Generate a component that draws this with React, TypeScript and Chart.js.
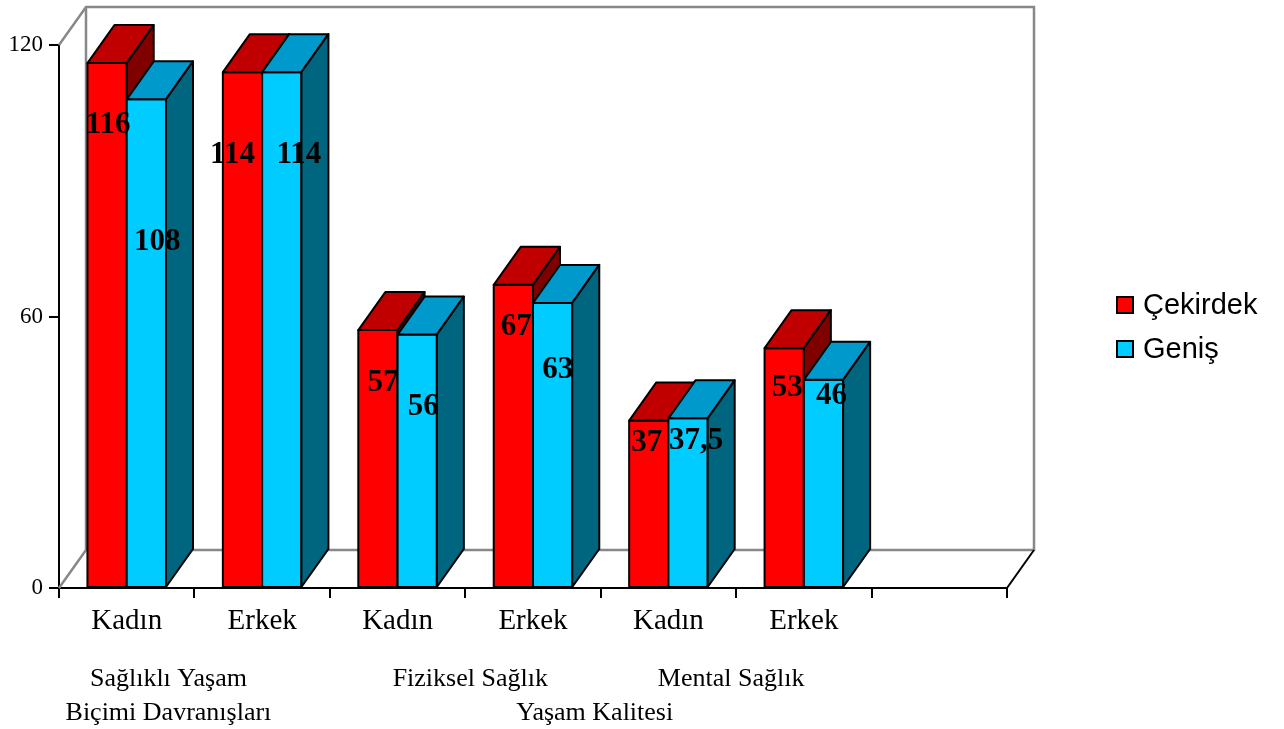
import React, { useEffect, useRef } from 'react';
import { Chart, registerables } from 'chart.js';

Chart.register(...registerables);

// ---------- data ----------
const categories = ['Kadın', 'Erkek', 'Kadın', 'Erkek', 'Kadın', 'Erkek', ''];
const seriesNames = ['Çekirdek', 'Geniş'];
const coreValues = [116, 114, 57, 67, 37, 53, null];
const wideValues = [108, 114, 56, 63, 37.5, 46, null];
// where each value label sits, in value units
const coreLabelLevel = [102.3, 95.7, 45.3, 57.7, 32.0, 44.2];
const wideLabelLevel = [76.5, 95.7, 40.0, 48.2, 32.5, 42.4];
const yTicks = [0, 60, 120];
const groupLabels = [
  { lines: ['Sağlıklı Yaşam', 'Biçimi Davranışları'], from: 0, to: 1, row: 0 },
  { lines: ['Fiziksel Sağlık'], from: 2, to: 3, row: 0 },
  { lines: ['Mental Sağlık'], from: 4, to: 5, row: 0 },
  { lines: ['Yaşam Kalitesi'], from: 2, to: 5, row: 1 },
];

// ---------- style ----------
const SERIF = "'Liberation Serif', 'Times New Roman', serif";
const SANS = "'Liberation Sans', Arial, sans-serif";
const DX = 27;
const DY = -38;
const GROUP_NUDGE = [-26, 5, -5, -6];
// horizontal nudges (px) of value labels from the bar's front centre
const CORE_LABEL_NUDGE = [1, -10, 5, 3, -2, 3];
const WIDE_LABEL_NUDGE = [11, 17, 6, 5, 8, 8];
const faces = [
  { front: '#FF0000', top: '#C00000', side: '#800000' },
  { front: '#00CCFF', top: '#0099CC', side: '#006680' },
];

const fmt = (v: number) => String(v).replace('.', ',');

const wallPlugin = {
  id: 'wall3d',
  beforeDatasetsDraw(chart: any) {
    const { ctx, chartArea } = chart;
    const { left, right, top, bottom } = chartArea;
    ctx.save();
    ctx.lineWidth = 2.5;
    ctx.strokeStyle = '#888888';
    ctx.beginPath();
    ctx.moveTo(left, top);
    ctx.lineTo(left + DX, top + DY);
    ctx.lineTo(right + DX, top + DY);
    ctx.lineTo(right + DX, bottom + DY);
    ctx.lineTo(left + DX, bottom + DY);
    ctx.lineTo(left + DX, top + DY);
    ctx.moveTo(left, bottom);
    ctx.lineTo(left + DX, bottom + DY);
    ctx.stroke();
    ctx.lineWidth = 2;
    ctx.strokeStyle = '#000';
    ctx.beginPath();
    ctx.moveTo(right, bottom);
    ctx.lineTo(right + DX, bottom + DY);
    ctx.stroke();
    ctx.restore();
  },
  afterDatasetsDraw(chart: any) {
    const { ctx } = chart;
    const metas = [chart.getDatasetMeta(0), chart.getDatasetMeta(1)];
    const values = [coreValues, wideValues];
    ctx.save();
    ctx.lineWidth = 2;
    ctx.lineJoin = 'round';
    ctx.strokeStyle = '#000';
    for (let i = 0; i < categories.length; i++) {
      for (let d = 0; d < 2; d++) {
        if (values[d][i] == null) continue;
        const el = metas[d].data[i];
        const { x, y, base, width } = el.getProps(['x', 'y', 'base', 'width'], true);
        const x0 = x - width / 2;
        const x1 = x + width / 2;
        // front
        ctx.fillStyle = faces[d].front;
        ctx.beginPath();
        ctx.rect(x0, y, x1 - x0, base - y);
        ctx.fill();
        ctx.stroke();
        // top
        ctx.fillStyle = faces[d].top;
        ctx.beginPath();
        ctx.moveTo(x0, y);
        ctx.lineTo(x1, y);
        ctx.lineTo(x1 + DX, y + DY);
        ctx.lineTo(x0 + DX, y + DY);
        ctx.closePath();
        ctx.fill();
        ctx.stroke();
        // side
        ctx.fillStyle = faces[d].side;
        ctx.beginPath();
        ctx.moveTo(x1, y);
        ctx.lineTo(x1 + DX, y + DY);
        ctx.lineTo(x1 + DX, base + DY);
        ctx.lineTo(x1, base);
        ctx.closePath();
        ctx.fill();
        ctx.stroke();
      }
    }
    // value labels
    const levels = [coreLabelLevel, wideLabelLevel];
    const nudges = [CORE_LABEL_NUDGE, WIDE_LABEL_NUDGE];
    const yScale = chart.scales.y;
    ctx.fillStyle = '#000';
    ctx.font = `bold 31px ${SERIF}`;
    ctx.textAlign = 'center';
    ctx.textBaseline = 'middle';
    for (let d = 0; d < 2; d++) {
      for (let i = 0; i < levels[d].length; i++) {
        const v = values[d][i];
        if (v == null) continue;
        const el = metas[d].data[i];
        ctx.fillText(fmt(v), el.x + nudges[d][i], yScale.getPixelForValue(levels[d][i]));
      }
    }
    ctx.restore();
  },
  afterDraw(chart: any) {
    const { ctx, chartArea } = chart;
    const xs = chart.scales.x;
    ctx.save();
    // group labels under categories
    ctx.fillStyle = '#000';
    ctx.font = `26px ${SERIF}`;
    ctx.textAlign = 'center';
    ctx.textBaseline = 'middle';
    groupLabels.forEach((g, gi) => {
      const cx = (xs.getPixelForValue(g.from) + xs.getPixelForValue(g.to)) / 2 + GROUP_NUDGE[gi];
      g.lines.forEach((line, li) => {
        const row = g.row + li;
        ctx.fillText(line, cx, chartArea.bottom + 91 + row * 34);
      });
    });
    // legend
    const lx = chartArea.right + 110;
    const ly = 305;
    ctx.font = `29px ${SANS}`;
    ctx.textAlign = 'left';
    seriesNames.forEach((name, k) => {
      const cy = ly + k * 44;
      ctx.fillStyle = faces[k].front;
      ctx.fillRect(lx, cy - 8, 16, 16);
      ctx.lineWidth = 2;
      ctx.strokeStyle = '#000';
      ctx.strokeRect(lx, cy - 8, 16, 16);
      ctx.fillStyle = '#000';
      ctx.fillText(name, lx + 26, cy + 1);
    });
    ctx.restore();
  },
};

export default function App() {
  const ref = useRef<HTMLCanvasElement | null>(null);
  useEffect(() => {
    if (!ref.current) return;
    const chart = new Chart(ref.current, {
      type: 'bar',
      data: {
        labels: categories,
        datasets: [
          { label: seriesNames[0], data: coreValues, backgroundColor: faces[0].front, borderWidth: 0 },
          { label: seriesNames[1], data: wideValues, backgroundColor: faces[1].front, borderWidth: 0 },
        ],
      },
      options: {
        animation: false,
        responsive: true,
        maintainAspectRatio: false,
        events: [],
        layout: { padding: { top: 45, right: 277, left: 0, bottom: 0 } },
        datasets: { bar: { categoryPercentage: 0.58, barPercentage: 1 } },
        plugins: { legend: { display: false }, tooltip: { enabled: false } },
        scales: {
          x: {
            grid: { drawOnChartArea: false, drawTicks: true, tickLength: 10, color: '#000', lineWidth: 2, offset: true },
            border: { display: true, color: '#000', width: 2 },
            ticks: { color: '#000', font: { family: SERIF, size: 29 }, padding: 6, maxRotation: 0, autoSkip: false },
            afterFit: (s: any) => { s.height = 141; },
          },
          y: {
            min: 0,
            max: 120,
            afterBuildTicks: (s: any) => { s.ticks = yTicks.map((v) => ({ value: v })); },
            grid: { drawOnChartArea: false, drawTicks: true, tickLength: 10, color: '#000', lineWidth: 2 },
            border: { display: true, color: '#000', width: 2 },
            ticks: { color: '#000', font: { family: SERIF, size: 23 }, padding: 6 },
            afterFit: (s: any) => { s.width = 59; },
          },
        },
      },
      plugins: [wallPlugin],
    });
    return () => chart.destroy();
  }, []);
  return (
    <div style={{ position: 'fixed', left: 0, top: 0, width: 1284, height: 729, background: '#fff' }}>
      <canvas ref={ref} />
    </div>
  );
}
